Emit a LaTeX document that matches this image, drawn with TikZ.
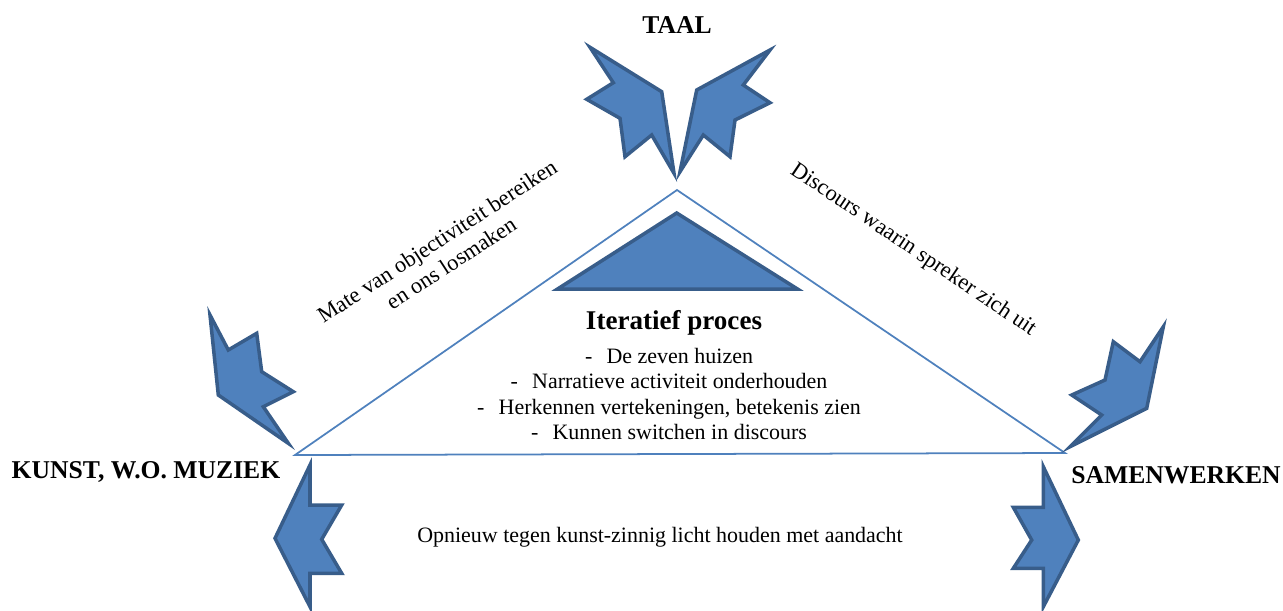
\documentclass[tikz,border=0pt]{standalone}
\usepackage{fontspec}
\IfFontExistsTF{LiberationSerif-Regular.ttf}
  {\setmainfont{LiberationSerif}[Extension=.ttf, UprightFont=*-Regular, BoldFont=*-Bold,
     ItalicFont=*-Italic, BoldItalicFont=*-BoldItalic]}
  {\setmainfont{Liberation Serif}}
\definecolor{vulblauw}{HTML}{4F81BD}
\definecolor{randblauw}{HTML}{385D8A}
\tikzset{
  pijl/.style={fill=vulblauw, draw=randblauw, line width=2pt, line join=miter},
  hoeklabel/.style={font=\bfseries\fontsize{14.6}{17}\selectfont, inner sep=0pt},
  gewoon/.style={font=\fontsize{12.5}{14.5}\selectfont, align=center, inner sep=0pt},
}
\begin{document}
\begin{tikzpicture}[x=0.02cm, y=-0.02cm]

  % Fix the page to the size of the reference
  \useasboundingbox (0,0) rectangle (1283,610);

  % Define the corners of the big triangle
  \coordinate (L) at (295,455);
  \coordinate (T) at (677,190);
  \coordinate (R) at (1065,453);

  % Draw the big triangle (thin outline)
  \draw[vulblauw, line width=1pt] (L) -- (T) -- (R) -- cycle;

  % Draw the small filled triangle at the top
  \draw[pijl] (557.5,289) -- (676.7,213) -- (797.5,289) -- cycle;

  % Arrows above the apex (TAAL)
  \draw[pijl] (590,47.3) -- (661.7,91.7) -- (674,173.3) -- (651.7,135) -- (625,156.7)
    -- (620,118.3) -- (586.7,99.3) -- (613.3,82.7) -- cycle;
  \draw[pijl] (770,50) -- (696.7,90) -- (680,171.7) -- (703.3,135) -- (730,156.7)
    -- (735,120) -- (770,102.7) -- (743.3,85) -- cycle;

  % Arrow pointing to the left corner
  \draw[pijl] (210,315) -- (228.3,350) -- (256.7,333.3) -- (261.7,371.7) -- (293.3,391.7)
    -- (263.3,406.7) -- (288.3,443.3) -- (218.3,395) -- cycle;

  % Arrow pointing to the right corner
  \draw[pijl] (1163.3,326.7) -- (1146.7,408.3) -- (1070,446.7) -- (1101.7,415)
    -- (1071.7,395) -- (1105,380) -- (1113.3,341.7) -- (1140,361.7) -- cycle;

  % Arrows along the bottom side
  \draw[pijl] (310,465) -- (310,505) -- (341.7,505) -- (321.7,539.3) -- (341.7,573.3)
    -- (310,573.3) -- (310,606.7) -- (275,538.3) -- cycle;
  \draw[pijl] (1043.3,466.7) -- (1078.3,540) -- (1043.3,606.7) -- (1043.3,568.3)
    -- (1013.3,568.3) -- (1031.7,540) -- (1013.3,507.3) -- (1043.3,507.3) -- cycle;

  % Labels at the three corners
  \node[hoeklabel] (taal) at (677,25) {TAAL};
  \node[hoeklabel] (kunst) at (146,472) {KUNST, W.O. MUZIEK};
  \node[hoeklabel] (samen) at (1176,475) {SAMENWERKEN};

  % Text inside the triangle
  \node[font=\bfseries\fontsize{15.4}{18}\selectfont, inner sep=0pt] (proces) at (674,323) {Iteratief proces};
  \node[gewoon] (lijst) at (669,394) {%
    -\hspace{0.65em}De zeven huizen\\
    -\hspace{0.65em}Narratieve activiteit onderhouden\\
    -\hspace{0.65em}Herkennen vertekeningen, betekenis zien\\
    -\hspace{0.65em}Kunnen switchen in discours};

  % Texts along the sides
  \node[gewoon, font=\fontsize{12.8}{14.8}\selectfont, rotate=33] (mate) at (444,252) {Mate van objectiviteit bereiken\\en ons losmaken};
  \node[gewoon, font=\fontsize{12.8}{14.8}\selectfont, rotate=-34] (discours) at (913,250) {Discours waarin spreker zich uit};
  \node[gewoon] (opnieuw) at (660,537) {Opnieuw tegen kunst-zinnig licht houden met aandacht};

\end{tikzpicture}
\end{document}
